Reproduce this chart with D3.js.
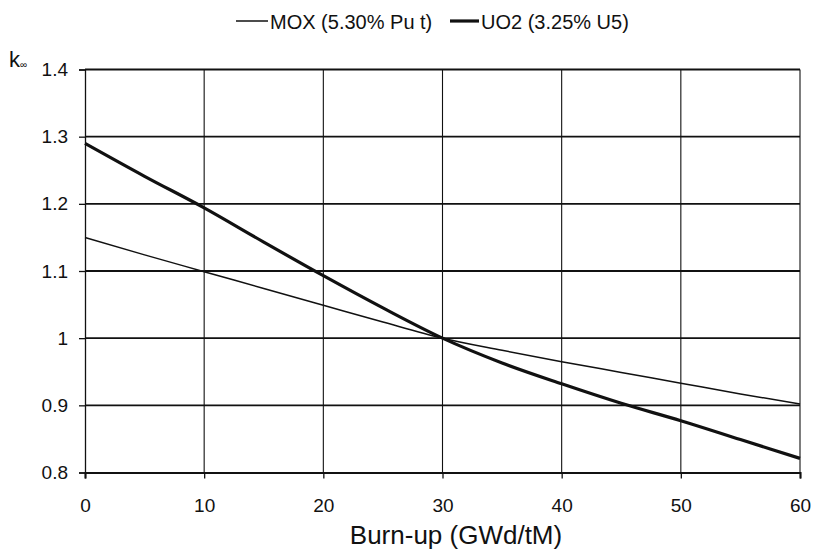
<!DOCTYPE html>
<html>
<head>
<meta charset="utf-8">
<script src="https://cdn.jsdelivr.net/npm/d3@7"></script>
<style>
  html, body { margin: 0; padding: 0; background: #fff; }
  svg { display: block; font-family: "Liberation Sans", Arial, Helvetica, sans-serif; }
</style>
</head>
<body>
<svg id="chart" width="815" height="558"></svg>
<script>
// Burn-up (GWd/tM) sample points
const burnup = [0, 5, 10, 15, 20, 25, 30, 35, 40, 45, 50, 55, 60];
// k-infinity versus burn-up for each fuel
const moxK = [1.150, 1.124, 1.099, 1.074, 1.049, 1.024, 1.000, 0.982, 0.965, 0.949, 0.933, 0.917, 0.902];
const uo2K = [1.290, 1.241, 1.194, 1.143, 1.093, 1.045, 1.000, 0.963, 0.932, 0.903, 0.877, 0.849, 0.821];
// Axis ticks
const xTicks = [0, 10, 20, 30, 40, 50, 60];
const yTicks = [0.8, 0.9, 1, 1.1, 1.2, 1.3, 1.4];
// Series names
const seriesNames = ["MOX (5.30% Pu t)", "UO2 (3.25% U5)"];

const svg = d3.select("#chart");
const m = { left: 85, right: 800, top: 69.5, bottom: 472.5 };

const x = d3.scaleLinear().domain([0, 60]).range([m.left, m.right]);
const y = d3.scaleLinear().domain([0.8, 1.4]).range([m.bottom, m.top]);

// vertical grid lines
svg.append("g")
  .selectAll("line").data(xTicks.slice(1)).join("line")
  .attr("x1", d => x(d)).attr("x2", d => x(d))
  .attr("y1", m.top).attr("y2", m.bottom)
  .attr("stroke", "#111").attr("stroke-width", 1.1);

// horizontal grid lines (heavier)
svg.append("g")
  .selectAll("line").data(yTicks.slice(1)).join("line")
  .attr("x1", m.left).attr("x2", m.right)
  .attr("y1", d => y(d)).attr("y2", d => y(d))
  .attr("stroke", "#111").attr("stroke-width", 1.8);

// y axis
const yAxis = svg.append("g")
  .attr("transform", `translate(${m.left},0)`)
  .call(d3.axisLeft(y).tickValues(yTicks).tickSize(6).tickPadding(11)
        .tickFormat(d => String(+d.toFixed(1))));
// x axis
const xAxis = svg.append("g")
  .attr("transform", `translate(0,${m.bottom})`)
  .call(d3.axisBottom(x).tickValues(xTicks).tickSize(6).tickPadding(20)
        .tickFormat(d3.format("d")));

[yAxis, xAxis].forEach(a => {
  a.select(".domain").attr("stroke", "#111").attr("stroke-width", 1.3);
  a.selectAll(".tick line").attr("stroke", "#111").attr("stroke-width", 1.3);
  a.selectAll(".tick text")
    .attr("fill", "#111")
    .style("font-size", "19px")
    .style("font-family", "'Liberation Sans', Arial, sans-serif");
});
xAxis.select(".domain").attr("stroke-width", 2);

// series lines
const line = vals => d3.line()
  .x((d, i) => x(burnup[i]))
  .y(d => y(d))
  .curve(d3.curveMonotoneX)(vals);

svg.append("path").attr("d", line(moxK))
  .attr("fill", "none").attr("stroke", "#111").attr("stroke-width", 1.5);
svg.append("path").attr("d", line(uo2K))
  .attr("fill", "none").attr("stroke", "#111").attr("stroke-width", 3.2)
  .attr("stroke-linejoin", "round");

// legend
const legend = svg.append("g").style("font-size", "20px").attr("fill", "#111");
const legendItems = [
  { name: seriesNames[0], x0: 236, x1: 268, w: 1.5 },
  { name: seriesNames[1], x0: 450, x1: 479, w: 3.2 }
];
legendItems.forEach(it => {
  legend.append("line")
    .attr("x1", it.x0).attr("x2", it.x1).attr("y1", 21).attr("y2", 21)
    .attr("stroke", "#111").attr("stroke-width", it.w);
  legend.append("text").attr("x", it.x1 + 2).attr("y", 28.5).text(it.name);
});

// y axis label: k with infinity subscript
const kLabel = svg.append("text").attr("x", 9).attr("y", 67)
  .attr("fill", "#111").style("font-size", "22px");
kLabel.append("tspan").text("k");
kLabel.append("tspan").attr("dy", 1).style("font-size", "10px").text("∞");

// x axis title
svg.append("text")
  .attr("x", 456).attr("y", 544)
  .attr("text-anchor", "middle")
  .attr("fill", "#111").style("font-size", "26px")
  .text("Burn-up (GWd/tM)");
</script>
</body>
</html>
